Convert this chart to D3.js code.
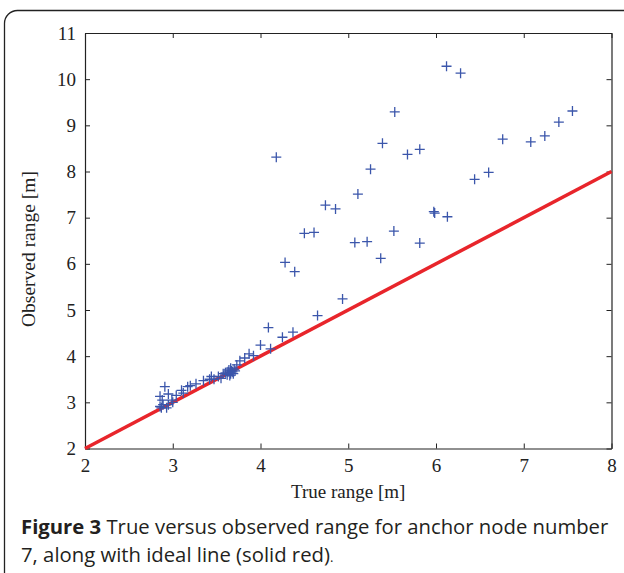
<!DOCTYPE html>
<html>
<head>
<meta charset="utf-8">
<script src="https://cdn.jsdelivr.net/npm/d3@7"></script>
<style>
  body { margin: 0; background: #fff; }
  svg { display: block; }
</style>
</head>
<body>
<script>
// Measured points: true range vs observed range [m]
const trueRange = [
  4.18, 4.50, 4.61, 4.74, 4.855, 5.11, 6.12, 6.28, 5.53, 5.39, 5.675, 5.815, 5.254,
  6.76, 7.08, 7.24, 7.40, 7.555, 6.44, 6.60, 5.975, 5.985, 6.13, 5.52, 5.075, 5.215,
  5.37, 5.815, 4.935, 4.28, 4.39, 4.65, 4.09, 4.37, 4.25, 4.00, 4.115, 3.92, 3.87,
  3.82, 3.765, 3.73,
  3.70, 3.68, 3.66, 3.64, 3.62, 3.65, 3.67, 3.60, 3.69, 3.63, 3.66, 3.71,
  3.575, 3.52, 3.44, 3.42, 3.35, 3.265, 3.20, 3.17, 3.10, 3.12, 3.04, 2.95, 2.91,
  2.855, 2.855, 2.89, 2.95, 2.99, 2.88, 2.93, 2.87, 3.00, 3.55, 3.47
];
const observedRange = [
  8.31, 6.66, 6.68, 7.27, 7.19, 7.51, 10.28, 10.13, 9.29, 8.61, 8.37, 8.48, 8.05,
  8.70, 8.64, 8.77, 9.07, 9.31, 7.83, 7.98, 7.13, 7.10, 7.02, 6.71, 6.46, 6.48,
  6.12, 6.45, 5.24, 6.03, 5.83, 4.88, 4.62, 4.52, 4.41, 4.24, 4.16, 4.01, 4.05,
  3.96, 3.90, 3.81,
  3.72, 3.66, 3.62, 3.70, 3.60, 3.58, 3.68, 3.64, 3.62, 3.66, 3.74, 3.68,
  3.62, 3.56, 3.56, 3.50, 3.47, 3.40, 3.36, 3.34, 3.26, 3.20, 3.15, 3.18, 3.34,
  3.13, 2.91, 2.95, 2.95, 3.05, 3.05, 2.88, 2.88, 3.00, 3.52, 3.50
];
// ideal line end points
const idealLine = [2, 8];
const xTicks = [2, 3, 4, 5, 6, 7, 8];
const yTicks = [2, 3, 4, 5, 6, 7, 8, 9, 10, 11];
const captionBold = "Figure 3";
const captionLine1 = " True versus observed range for anchor node number";
const captionLine2 = "7, along with ideal line (solid red)";

const width = 624, height = 573;
const margin = {left: 85, right: 12.5, top: 33, bottom: 124.5};
const plotW = width - margin.left - margin.right;
const plotH = height - margin.top - margin.bottom;

const svg = d3.select("body").append("svg")
    .attr("width", width)
    .attr("height", height);

// rounded figure frame (runs off the right and bottom edges)
svg.append("rect")
    .attr("x", 4.5).attr("y", 10.5)
    .attr("width", 640).attr("height", 600)
    .attr("rx", 13).attr("ry", 13)
    .attr("fill", "none")
    .attr("stroke", "#222")
    .attr("stroke-width", 1.3);

const x = d3.scaleLinear().domain([2, 8]).range([0, plotW]);
const y = d3.scaleLinear().domain([2, 11]).range([plotH, 0]);

const g = svg.append("g")
    .attr("transform", "translate(" + margin.left + "," + margin.top + ")");

// Axes with inward ticks on all four sides
const tickFont = "'Liberation Serif', 'Times New Roman', serif";

const xAxis = g.append("g")
    .attr("transform", "translate(0," + plotH + ")")
    .call(d3.axisBottom(x).tickValues(xTicks).tickFormat(d3.format("d"))
        .tickSizeInner(-5).tickSizeOuter(0).tickPadding(10));
const yAxis = g.append("g")
    .call(d3.axisLeft(y).tickValues(yTicks).tickFormat(d3.format("d"))
        .tickSizeInner(-5).tickSizeOuter(0).tickPadding(9));
const xTop = g.append("g")
    .call(d3.axisTop(x).tickValues(xTicks).tickSizeInner(-5).tickSizeOuter(0).tickFormat(""));
const yRight = g.append("g")
    .attr("transform", "translate(" + plotW + ",0)")
    .call(d3.axisRight(y).tickValues(yTicks).tickSizeInner(-5).tickSizeOuter(0).tickFormat(""));

[xAxis, yAxis, xTop, yRight].forEach(function(a){
    a.selectAll("path").attr("stroke", "#222").attr("stroke-width", 1.2);
    a.selectAll("line").attr("stroke", "#222").attr("stroke-width", 1);
    a.selectAll("text")
        .attr("fill", "#222")
        .style("font-family", tickFont)
        .style("font-size", "19px");
});

// ideal line
g.append("line")
    .attr("x1", x(idealLine[0])).attr("y1", y(idealLine[0]))
    .attr("x2", x(idealLine[1])).attr("y2", y(idealLine[1]))
    .attr("stroke", "#e8252b")
    .attr("stroke-width", 3.5);

// plus markers
const points = trueRange.map(function(v, i){ return [v, observedRange[i]]; });
const s = 5;
g.append("g").selectAll("path")
    .data(points)
    .enter().append("path")
    .attr("d", function(d){
        const px = x(d[0]), py = y(d[1]);
        return "M" + (px - s) + "," + py + "H" + (px + s) + "M" + px + "," + (py - s) + "V" + (py + s);
    })
    .attr("stroke", "#3b56ab")
    .attr("stroke-width", 1.3)
    .attr("fill", "none");

// axis labels
svg.append("text")
    .attr("x", margin.left + plotW / 2)
    .attr("y", 498)
    .attr("text-anchor", "middle")
    .style("font-family", tickFont)
    .style("font-size", "19px")
    .attr("fill", "#222")
    .text("True range [m]");

svg.append("text")
    .attr("transform", "translate(35,249) rotate(-90)")
    .attr("text-anchor", "middle")
    .style("font-family", tickFont)
    .style("font-size", "19.5px")
    .attr("fill", "#222")
    .text("Observed range [m]");

// caption
const capFont = "'Open Sans', 'Noto Sans', sans-serif";
const cap1 = svg.append("text")
    .attr("x", 21).attr("y", 534)
    .style("font-family", capFont)
    .style("font-size", "20.3px")
    .attr("fill", "#231f20");
cap1.append("tspan").attr("font-weight", "bold").text(captionBold);
cap1.append("tspan").text(captionLine1);

const cap2 = svg.append("text")
    .attr("x", 21).attr("y", 562)
    .style("font-family", capFont)
    .style("font-size", "20.3px")
    .attr("fill", "#231f20");
cap2.append("tspan").text(captionLine2);
cap2.append("tspan").style("font-size", "13px").text(".");
</script>
</body>
</html>
